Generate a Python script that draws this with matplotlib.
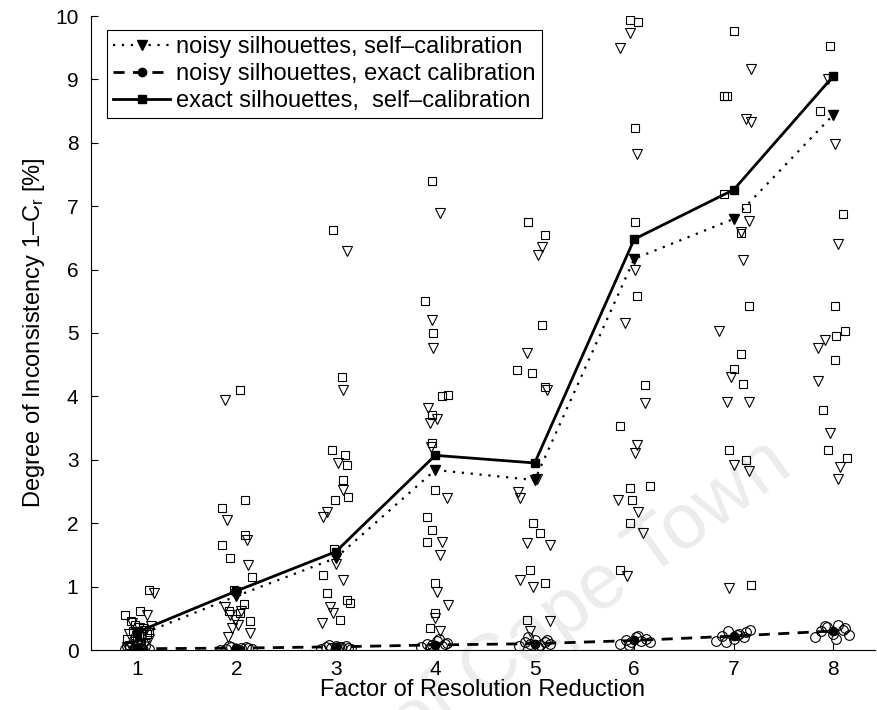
#recreates the inconsistency vs resolution reduction scatter chart
import matplotlib
matplotlib.use('Agg')
import matplotlib.pyplot as plt
import numpy as np

plt.rcParams['font.family'] = ['Liberation Sans', 'DejaVu Sans']
plt.rcParams['mathtext.fontset'] = 'custom'
plt.rcParams['mathtext.rm'] = 'Liberation Sans'
plt.rcParams['mathtext.it'] = 'Liberation Sans:italic'

factors = [1, 2, 3, 4, 5, 6, 7, 8]

#means per factor
tri_mean = [0.22, 0.85, 1.45, 2.84, 2.68, 6.17, 6.80, 8.44]
sq_mean = [0.28, 0.93, 1.55, 3.07, 2.95, 6.48, 7.26, 9.05]
circ_mean = [0.02, 0.03, 0.05, 0.08, 0.10, 0.15, 0.22, 0.30]

#single runs: noisy silhouettes, self-calibration
tri_x = [1.17, 1.10, 0.95, 1.02, 1.08, 0.92, 1.05, 1.12, 0.98, 1.03, 0.90, 1.08, 1.00, 1.14,
         1.89, 1.91, 2.11, 2.12, 1.89, 1.94, 1.99, 2.02, 2.14, 1.96, 2.05, 2.00, 1.92,
         3.11, 3.07, 3.02, 3.07, 2.91, 2.87, 3.00, 3.07, 2.94, 2.97, 2.86,
         4.05, 3.97, 3.98, 3.93, 4.02, 3.95, 4.12, 4.07, 4.05, 4.02, 4.13, 4.00, 4.05, 3.96,
         5.07, 5.03, 4.92, 5.12, 4.83, 4.85, 4.92, 5.15, 4.85, 4.98, 5.15, 4.95, 5.02,
         5.96, 5.86, 6.03, 6.01, 5.91, 6.11, 6.03, 6.01, 5.84, 6.04, 6.09, 5.93,
         7.17, 7.12, 7.17, 7.15, 7.07, 7.09, 6.85, 6.97, 6.93, 7.15, 7.00, 7.15, 6.95,
         7.95, 8.02, 8.05, 7.92, 7.85, 7.85, 7.97, 8.07, 8.05]
tri_y = [0.90, 0.55, 0.42, 0.35, 0.30, 0.25, 0.20, 0.18, 0.12, 0.08, 0.05, 0.10, 0.28, 0.38,
         3.94, 2.05, 1.73, 1.34, 0.68, 0.55, 0.48, 0.40, 0.27, 0.35, 0.62, 0.88, 0.20,
         6.30, 4.10, 2.95, 2.52, 2.18, 2.10, 1.35, 1.10, 0.68, 0.58, 0.43,
         6.90, 5.20, 4.76, 3.82, 3.65, 3.58, 2.40, 1.70, 1.50, 0.92, 0.71, 0.50, 0.30, 3.20,
         6.35, 6.23, 4.68, 4.10, 2.50, 2.40, 1.69, 1.65, 1.10, 1.00, 0.45, 0.30, 2.70,
         9.73, 9.50, 7.82, 6.00, 5.16, 3.90, 3.24, 3.10, 2.37, 2.17, 1.85, 1.17,
         9.17, 8.38, 8.33, 6.77, 6.60, 6.15, 5.03, 4.30, 3.91, 3.91, 2.92, 2.83, 0.98,
         9.00, 7.98, 6.41, 4.89, 4.76, 4.24, 3.42, 2.89, 2.70]

#single runs: exact silhouettes, self-calibration
sq_x = [1.12, 0.88, 1.03, 0.94, 1.06, 0.96, 1.10, 0.90, 1.00, 1.04, 0.92, 1.12, 0.98,
        2.04, 2.09, 1.86, 2.09, 1.86, 1.94, 2.16, 2.04, 2.14, 1.98, 1.93, 2.08,
        2.97, 3.06, 2.96, 3.09, 3.11, 3.07, 3.12, 2.99, 2.98, 2.87, 2.91, 3.11, 3.14, 3.04,
        3.97, 3.90, 3.98, 4.07, 4.13, 3.97, 3.97, 4.00, 3.92, 3.97, 3.92, 4.00, 4.00, 3.95,
        4.93, 5.10, 5.07, 4.82, 4.97, 5.10, 4.98, 5.05, 4.95, 5.10, 4.92,
        6.04, 5.96, 6.01, 6.01, 6.03, 6.11, 5.86, 5.96, 6.16, 5.98, 5.96, 5.86,
        7.00, 6.90, 6.93, 6.90, 7.12, 7.07, 7.15, 7.07, 7.00, 7.09, 6.95, 7.12, 7.17,
        7.97, 7.87, 8.10, 8.02, 8.12, 8.03, 8.02, 7.90, 7.95, 8.14]
sq_y = [0.95, 0.55, 0.62, 0.45, 0.35, 0.30, 0.25, 0.18, 0.15, 0.10, 0.08, 0.28, 0.40,
        4.10, 2.37, 2.24, 1.81, 1.66, 1.45, 1.15, 0.58, 0.45, 0.95, 0.62, 0.72,
        6.62, 4.30, 3.15, 3.08, 2.92, 2.68, 2.41, 2.37, 1.60, 1.18, 0.90, 0.79, 0.74, 0.47,
        7.40, 5.50, 5.00, 4.00, 4.02, 3.70, 3.26, 2.52, 2.10, 1.90, 1.70, 1.05, 0.58, 0.35,
        6.75, 6.55, 5.13, 4.42, 4.37, 4.15, 2.00, 1.85, 1.26, 1.05, 0.47,
        9.90, 9.93, 8.23, 6.75, 5.58, 4.18, 3.53, 2.56, 2.59, 2.37, 2.00, 1.26,
        9.76, 8.74, 8.74, 7.20, 6.97, 6.57, 5.42, 4.67, 4.44, 4.20, 3.15, 2.99, 1.02,
        9.53, 8.50, 6.87, 5.42, 5.03, 4.96, 4.57, 3.78, 3.15, 3.03]

#single runs: noisy silhouettes, exact calibration
circ_x = [0.88, 0.93, 0.97, 1.00, 1.04, 1.08, 1.12, 0.95, 1.02, 0.90, 1.06, 0.99,
          1.84, 1.90, 1.95, 2.00, 2.05, 2.10, 2.16, 1.93, 2.03, 2.12,
          2.85, 2.90, 2.95, 3.00, 3.05, 3.10, 3.15, 2.93, 3.03, 3.12,
          3.86, 3.92, 3.97, 4.02, 4.07, 4.12, 3.95, 4.04, 4.10,
          4.84, 4.90, 4.95, 5.00, 5.05, 5.10, 5.15, 4.93, 5.03, 5.12,
          5.86, 5.92, 5.97, 6.02, 6.07, 6.12, 5.95, 6.04, 6.16,
          6.82, 6.88, 6.94, 7.00, 7.05, 7.10, 7.16, 6.92, 7.03, 7.12,
          7.82, 7.88, 7.94, 8.00, 8.05, 8.10, 8.16, 7.92, 8.03, 8.12]
circ_y = [0.02, 0.05, 0.00, 0.08, 0.03, 0.06, 0.02, 0.10, 0.12, 0.07, 0.00, 0.04,
          0.00, 0.02, 0.04, 0.01, 0.03, 0.05, 0.02, 0.06, 0.00, 0.03,
          0.02, 0.05, 0.03, 0.07, 0.04, 0.06, 0.02, 0.08, 0.05, 0.03,
          0.05, 0.10, 0.08, 0.14, 0.06, 0.11, 0.03, 0.18, 0.09,
          0.06, 0.12, 0.09, 0.16, 0.08, 0.13, 0.10, 0.20, 0.05, 0.15,
          0.10, 0.16, 0.12, 0.20, 0.14, 0.18, 0.08, 0.22, 0.13,
          0.14, 0.22, 0.30, 0.18, 0.26, 0.20, 0.32, 0.12, 0.24, 0.28,
          0.20, 0.30, 0.36, 0.26, 0.40, 0.32, 0.24, 0.38, 0.18, 0.34]

fig = plt.figure(figsize=(8.78, 7.10), dpi=100)
ax = fig.add_axes([91/878, 60/710, 784/878, 634/710])

#faint watermark across the lower right, behind everything
fig.text(0.905, 0.335, 'University of Cape Town', fontsize=56, color='#ececec',
         rotation=36, ha='right', va='baseline', rotation_mode='anchor', zorder=-1)
ax.patch.set_alpha(0)

ax.plot(tri_x, tri_y, 'v', ms=7, mfc='none', mec='black', mew=0.8, zorder=3)
ax.plot(sq_x, sq_y, 's', ms=6, mfc='none', mec='black', mew=0.8, zorder=3)
ax.plot(circ_x, circ_y, 'o', ms=7, mfc='none', mec='black', mew=0.8, zorder=3)

l1, = ax.plot(factors, tri_mean, color='black', ls=(0, (1, 3)), lw=1.6, marker='v',
              ms=7, mfc='black', mec='black', zorder=4)
l2, = ax.plot(factors, circ_mean, color='black', ls=(0, (4, 3)), lw=2.0, marker='o',
              ms=6, mfc='black', mec='black', zorder=4)
l3, = ax.plot(factors, sq_mean, color='black', ls='-', lw=2.0, marker='s',
              ms=6, mfc='black', mec='black', zorder=4)

ax.set_xlim(0.54, 8.42)
ax.set_ylim(0, 10)
ax.set_xticks(factors)
ax.set_yticks(range(0, 11))
ax.tick_params(direction='in', length=5, labelsize=15, width=0.8)
ax.tick_params(axis='y', pad=9)
ax.tick_params(axis='x', pad=7)
ax.spines[['top', 'right']].set_visible(False)
ax.set_xlabel('Factor of Resolution Reduction', fontsize=17, labelpad=0)
ax.set_ylabel('Degree of Inconsistency 1\u2013C$_\\mathregular{r}$ [%]', fontsize=17,
              labelpad=6)

leg = ax.legend([l1, l2, l3],
                ['noisy silhouettes, self\u2013calibration',
                 'noisy silhouettes, exact calibration',
                 'exact silhouettes,  self\u2013calibration'],
                loc='upper left', bbox_to_anchor=(0.02, 0.978), borderaxespad=0,
                fontsize=17, handlelength=2.45, handletextpad=0.25,
                labelspacing=0.22, fancybox=False, framealpha=1,
                edgecolor='black', borderpad=0.25)
leg.get_frame().set_linewidth(0.8)

plt.savefig('out.png', dpi=100)
